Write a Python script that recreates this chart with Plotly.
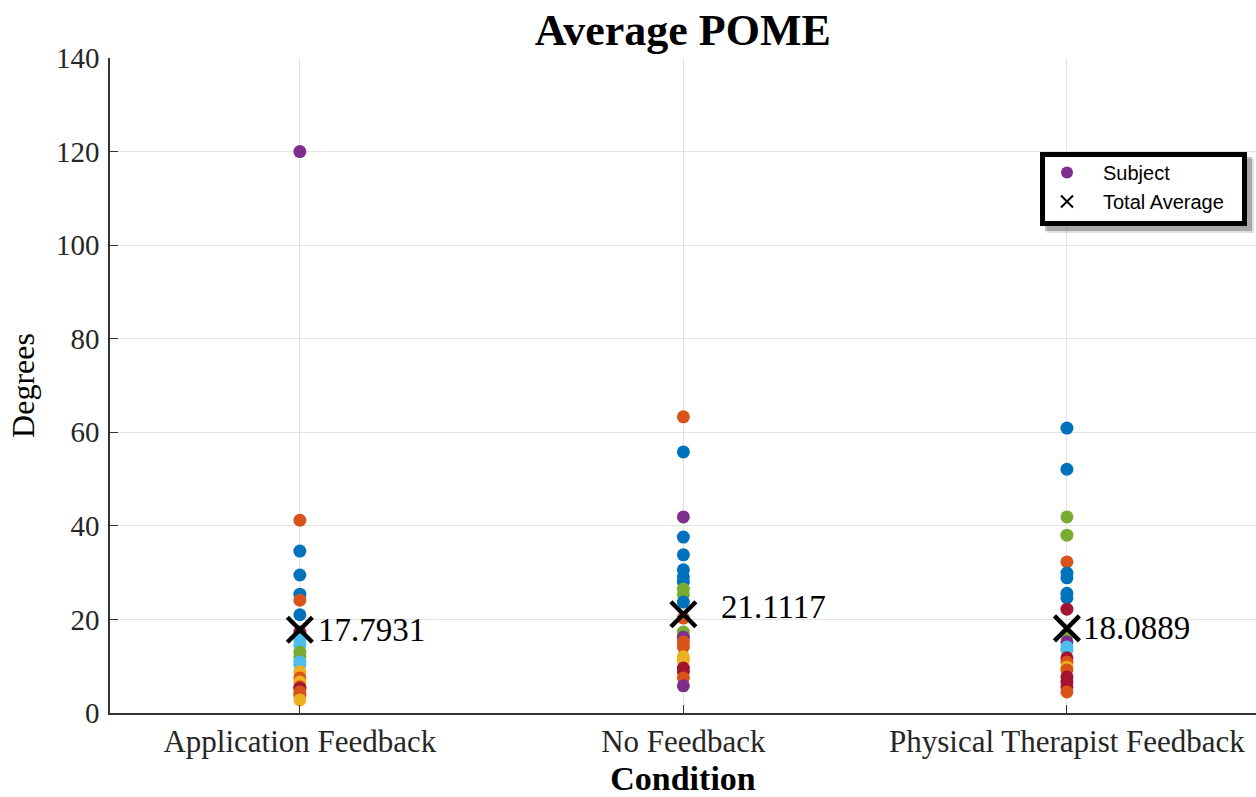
import plotly.graph_objects as go

# Conditions compared in the study
conditions = ["Application Feedback", "No Feedback", "Physical Therapist Feedback"]

# Per-subject average POME (degrees) for each condition, with the subject colour key
app_values = [120.0, 41.2, 34.6, 29.5, 25.4, 24.1, 21.0, 17.3, 15.6, 14.5, 13.0,
              12.0, 10.9, 10.3, 8.8, 7.5, 6.6, 5.6, 5.3, 4.5, 3.8, 2.8]
app_colors = ["purple", "orange", "blue", "blue", "blue", "orange", "blue", "red",
              "lightblue", "lightblue", "green", "green", "lightblue", "lightblue",
              "yellow", "orange", "yellow", "orange", "red", "orange", "orange", "yellow"]

nf_values = [63.3, 55.8, 41.9, 37.6, 33.8, 30.6, 29.1, 28.0, 26.5, 25.3, 23.7,
             20.3, 17.3, 16.2, 15.2, 14.1, 12.0, 11.3, 9.6, 8.8, 7.5, 5.8]
nf_colors = ["orange", "blue", "purple", "blue", "blue", "blue", "blue", "blue",
             "green", "green", "blue", "orange", "green", "purple", "orange", "orange",
             "yellow", "yellow", "red", "red", "orange", "purple"]

pt_values = [60.9, 52.1, 41.9, 38.0, 32.3, 29.9, 28.9, 25.6, 24.6, 22.2, 16.7,
             15.2, 14.1, 13.5, 11.8, 10.9, 9.8, 9.2, 7.7, 6.6, 5.6, 4.5]
pt_colors = ["blue", "blue", "green", "green", "orange", "blue", "blue", "blue",
             "blue", "red", "green", "purple", "lightblue", "lightblue", "red",
             "orange", "yellow", "orange", "red", "red", "red", "orange"]

# Total average per condition
total_avg = [17.7931, 21.1117, 18.0889]

palette = {
    "blue": "#0072BD", "orange": "#D95319", "yellow": "#EDB120",
    "purple": "#7E2F8E", "green": "#77AC30", "lightblue": "#4DBEEE",
    "red": "#A2142F",
}

serif = "Liberation Serif"
sans = "Liberation Sans"

# plot-area geometry in pixels (used to place the legend frame)
PL, PR, PT, PB = 110, 1256, 58, 713


def px_x(x):
    return (x - PL) / (PR - PL)


def px_y(y):
    return (PB - y) / (PB - PT)


fig = go.Figure()

groups = [(app_values, app_colors), (nf_values, nf_colors), (pt_values, pt_colors)]
for i, (vals, cols) in enumerate(groups):
    fig.add_trace(go.Scatter(
        x=[i + 1] * len(vals), y=vals, mode="markers",
        marker=dict(size=13, color=[palette[c] for c in cols], line=dict(width=0)),
        name="Subject", legendgroup="subj", showlegend=(i == 0),
        hoverinfo="y",
    ))

fig.add_trace(go.Scatter(
    x=[1, 2, 3], y=total_avg, mode="markers",
    marker=dict(symbol="x-thin-open", size=25, color="black",
                line=dict(width=4.5, color="black")),
    name="Total Average",
))

# value labels beside each average marker (pixel offsets)
label_shift = [(16, 0), (36, 7), (14, 0)]
for i, v in enumerate(total_avg):
    fig.add_annotation(
        x=i + 1, y=v, text=f"{v:.4f}", showarrow=False,
        xanchor="left", yanchor="middle",
        xshift=label_shift[i][0], yshift=label_shift[i][1],
        font=dict(family=serif, size=33, color="black"),
    )

# legend frame: soft shadow, then white box with a heavy black border
for dx, alpha in [(7, 0.15), (5, 0.3)]:
    fig.add_shape(type="rect", xref="paper", yref="paper", layer="above",
                  x0=px_x(1040 + dx), x1=px_x(1247 + dx),
                  y0=px_y(226 + dx), y1=px_y(152 + dx),
                  fillcolor=f"rgba(40,40,40,{alpha})", line=dict(width=0))
fig.add_shape(type="rect", xref="paper", yref="paper", layer="above",
              x0=px_x(1042.5), x1=px_x(1244.5), y0=px_y(223.5), y1=px_y(154.5),
              fillcolor="white", line=dict(color="black", width=5))

fig.update_layout(
    width=1256, height=797,
    margin=dict(l=PL, r=1256 - PR, t=PT, b=797 - PB),
    paper_bgcolor="white", plot_bgcolor="white",
    title=dict(text="<b>Average POME</b>", x=0.5436, xanchor="center",
               y=0.963, yanchor="middle",
               font=dict(family=serif, size=44, color="black")),
    showlegend=True,
    legend=dict(x=px_x(1031), xanchor="left", y=px_y(153), yanchor="top",
                bgcolor="rgba(0,0,0,0)", borderwidth=0,
                font=dict(family=sans, size=20, color="black"),
                itemwidth=62, itemsizing="constant", tracegroupgap=0),
    xaxis=dict(
        range=[0.505, 3.493], tickmode="array", tickvals=[1, 2, 3],
        ticktext=conditions, showgrid=True, gridcolor="#e3e3e3", gridwidth=1,
        zeroline=False, showline=True, linecolor="#333333", linewidth=1.5,
        ticks="inside", ticklen=8, tickcolor="#333333",
        tickfont=dict(family=serif, size=31, color="#262626"),
        title=dict(text="<b>Condition</b>", standoff=12,
                   font=dict(family=serif, size=34, color="black")),
    ),
    yaxis=dict(
        range=[0, 140], tickmode="array", tickvals=list(range(0, 141, 20)),
        showgrid=True, gridcolor="#e3e3e3", gridwidth=1,
        zeroline=False, showline=True, linecolor="#333333", linewidth=1.5,
        ticks="inside", ticklen=8, tickcolor="#333333", ticklabelstandoff=3,
        tickfont=dict(family=serif, size=29, color="#262626"),
        title=dict(text="Degrees", standoff=12,
                   font=dict(family=serif, size=32, color="black")),
    ),
)

fig.write_html("out.html")
